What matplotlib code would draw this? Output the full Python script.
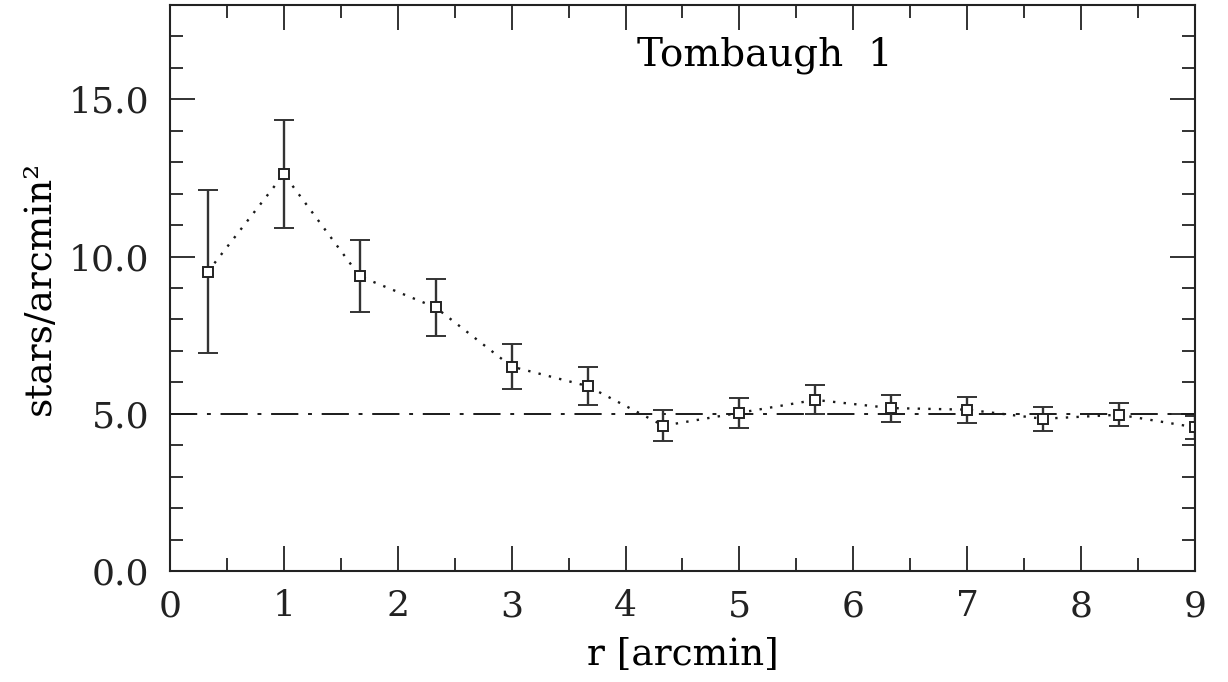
import matplotlib
matplotlib.use('Agg')
import matplotlib.pyplot as plt
from matplotlib.ticker import MultipleLocator, FormatStrFormatter

# radial density profile
r = [0.333, 1.0, 1.667, 2.333, 3.0, 3.667, 4.333, 5.0, 5.667, 6.333, 7.0, 7.667, 8.333, 9.0]
density = [9.52, 12.62, 9.37, 8.38, 6.50, 5.88, 4.62, 5.03, 5.44, 5.18, 5.13, 4.84, 4.97, 4.57]
density_err = [2.58, 1.72, 1.14, 0.92, 0.71, 0.61, 0.50, 0.48, 0.46, 0.43, 0.41, 0.38, 0.37, 0.36]
background = 5.0

plt.rcParams['font.family'] = ['DejaVu Serif']

fig = plt.figure(figsize=(12.28, 6.82), dpi=100)
ax = fig.add_axes([0.1384, 0.1628, 0.8347, 0.8299])

ax.axhline(background, color='#1a1a1a', lw=1.4, dashes=(14, 5, 2, 5))
ax.plot(r, density, color='#1a1a1a', lw=1.7, ls=(0, (1, 3.5)))
ax.errorbar(r, density, yerr=density_err, fmt='s', ms=7, mfc='white', mec='#222222',
            mew=1.4, ecolor='#333333', elinewidth=1.7, capsize=7.5, capthick=1.7)

ax.set_xlim(0, 9)
ax.set_ylim(0, 18)
ax.xaxis.set_major_locator(MultipleLocator(1))
ax.xaxis.set_minor_locator(MultipleLocator(0.5))
ax.yaxis.set_major_locator(MultipleLocator(5))
ax.yaxis.set_minor_locator(MultipleLocator(1))
ax.yaxis.set_major_formatter(FormatStrFormatter('%.1f'))

ax.tick_params(which='both', direction='in', top=True, right=True, width=1.3, colors='#222222')
ax.tick_params(which='major', length=18, labelsize=26)
ax.tick_params(axis='y', which='major', pad=15)
ax.tick_params(axis='x', which='major', pad=13)
ax.tick_params(which='minor', length=9.5)
for s in ax.spines.values():
    s.set_linewidth(1.5)
    s.set_color('#222222')

ax.set_xlabel('r [arcmin]', fontsize=27, labelpad=10)
ax.set_ylabel('stars/arcmin²', fontsize=27, labelpad=8)
ax.text(0.58, 0.912, 'Tombaugh  1', transform=ax.transAxes, ha='center', va='center', fontsize=28)

fig.savefig('out.png', dpi=100)
